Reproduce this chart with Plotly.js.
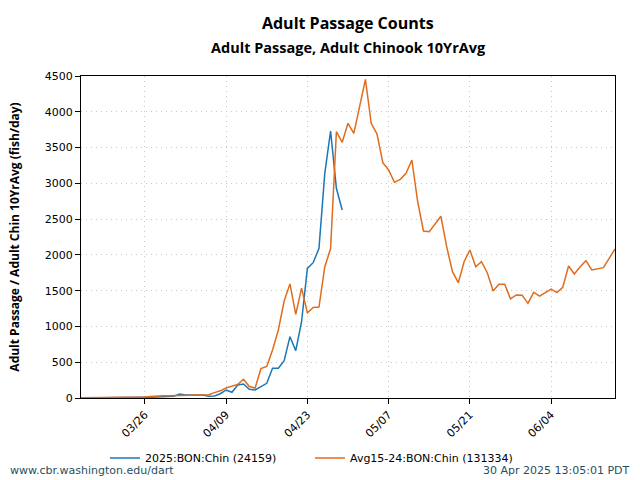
<!DOCTYPE html>
<html>
<head>
<meta charset="utf-8">
<script src="https://cdn.plot.ly/plotly-3.0.1.min.js"></script>
<style>html,body{margin:0;padding:0;background:#fff;}#chart{width:640px;height:480px;}</style>
</head>
<body>
<div id="chart"></div>
<script>
// Day 0 = 2025-03-15
var startDate = "2025-03-15";

var seriesNames = ["2025:BON:Chin (24159)", "Avg15-24:BON:Chin (131334)"];

var blue2025 = [0,0,0,2,2,3,3,5,5,5,8,10,12,15,18,20,25,55,42,42,42,42,25,28,60,
  112,80,182,196,121,112,158,205,415,415,521,857,662,1066,1812,1891,2092,3140,3731,2931,2627];

var avg1524 = [5,5,5,8,8,10,10,8,10,10,12,15,20,28,32,30,35,40,40,40,42,42,45,75,100,
  140,165,190,262,160,140,410,440,670,950,1355,1595,1170,1535,1190,1265,1270,1835,2085,
  3722,3573,3839,3699,4071,4454,3839,3689,3289,3186,3014,3056,3140,3326,2743,2334,2324,
  2432,2540,2115,1765,1611,1905,2068,1835,1905,1751,1495,1589,1589,1384,1440,1437,1323,
  1477,1425,1477,1523,1472,1547,1845,1733,1835,1919,1789,1803,1821,1952,2082];

var tickVals = ["2025-03-26","2025-04-09","2025-04-23","2025-05-07","2025-05-21","2025-06-04"];
var tickText = ["03/26","04/09","04/23","05/07","05/21","06/04"];

function dates(n){
  var out=[]; var base=new Date(startDate+"T00:00:00Z");
  for(var i=0;i<n;i++){ var d=new Date(base.getTime()+i*86400000); out.push(d.toISOString().slice(0,10)); }
  return out;
}

var traces = [
  {x: dates(blue2025.length), y: blue2025, name: seriesNames[0], type:"scatter", mode:"lines",
   line:{color:"#1b77b8", width:1.5}, legend:"legend"},
  {x: dates(avg1524.length), y: avg1524, name: seriesNames[1], type:"scatter", mode:"lines",
   line:{color:"#e06d1e", width:1.5}, legend:"legend2"}
];

var font = "DejaVu Sans, sans-serif";
var tfont = "Open Sans, DejaVu Sans, sans-serif";
var legBase = {orientation:"h", xanchor:"left", yref:"container", y:1-458/480, yanchor:"middle",
               font:{size:11}, bgcolor:"rgba(0,0,0,0)", borderwidth:0};
var layout = {
  width:640, height:480,
  margin:{l:81, r:25, t:76, b:82, autoexpand:false},
  paper_bgcolor:"#fff", plot_bgcolor:"#fff",
  font:{family:font, size:11, color:"#000"},
  title:{text:"<b>Adult Passage Counts</b>", x:0.5434, xanchor:"center", y:1-23/480, yanchor:"middle",
         font:{family:tfont, size:16, color:"#000"}},
  xaxis:{type:"date", range:["2025-03-15","2025-06-15"], tickvals:tickVals, ticktext:tickText,
         tickangle:-45, ticks:"outside", ticklen:5, tickcolor:"#000", showline:true, linecolor:"#000",
         linewidth:1, mirror:true, showgrid:true, gridcolor:"#c8c8c8", griddash:"1px,4px", gridwidth:1,
         zeroline:false, tickfont:{size:11}},
  yaxis:{range:[0,4500], dtick:500, tick0:0, ticks:"outside", ticklen:5, tickcolor:"#000",
         showline:true, linecolor:"#000", linewidth:1, mirror:true, showgrid:true, gridcolor:"#c8c8c8",
         griddash:"1px,4px", gridwidth:1, zeroline:false, tickfont:{size:11},
         title:{text:"<b>Adult Passage / Adult Chin 10YrAvg (fish/day)</b>", font:{family:tfont, size:12}, standoff:22}},
  showlegend:true,
  legend:Object.assign({}, legBase, {x:(105-81)/534}),
  legend2:Object.assign({}, legBase, {x:(310-81)/534}),
  annotations:[
    {text:"<b>Adult Passage, Adult Chinook 10YrAvg</b>", xref:"paper", yref:"paper", x:0.5, y:(398-47)/322,
     xanchor:"center", yanchor:"middle", showarrow:false, font:{family:tfont, size:14.5, color:"#000"}},
    {text:"www.cbr.washington.edu/dart", xref:"paper", yref:"paper", x:(8-81)/534, y:(398-470)/322,
     xanchor:"left", yanchor:"middle", showarrow:false, font:{size:11, color:"#1f4f5f"}},
    {text:"30 Apr 2025 13:05:01 PDT", xref:"paper", yref:"paper", x:(632-81)/534, y:(398-470)/322,
     xanchor:"right", yanchor:"middle", showarrow:false, font:{size:11, color:"#1f4f5f"}}
  ]
};

Plotly.newPlot("chart", traces, layout, {displayModeBar:false, staticPlot:true});
</script>
</body>
</html>
